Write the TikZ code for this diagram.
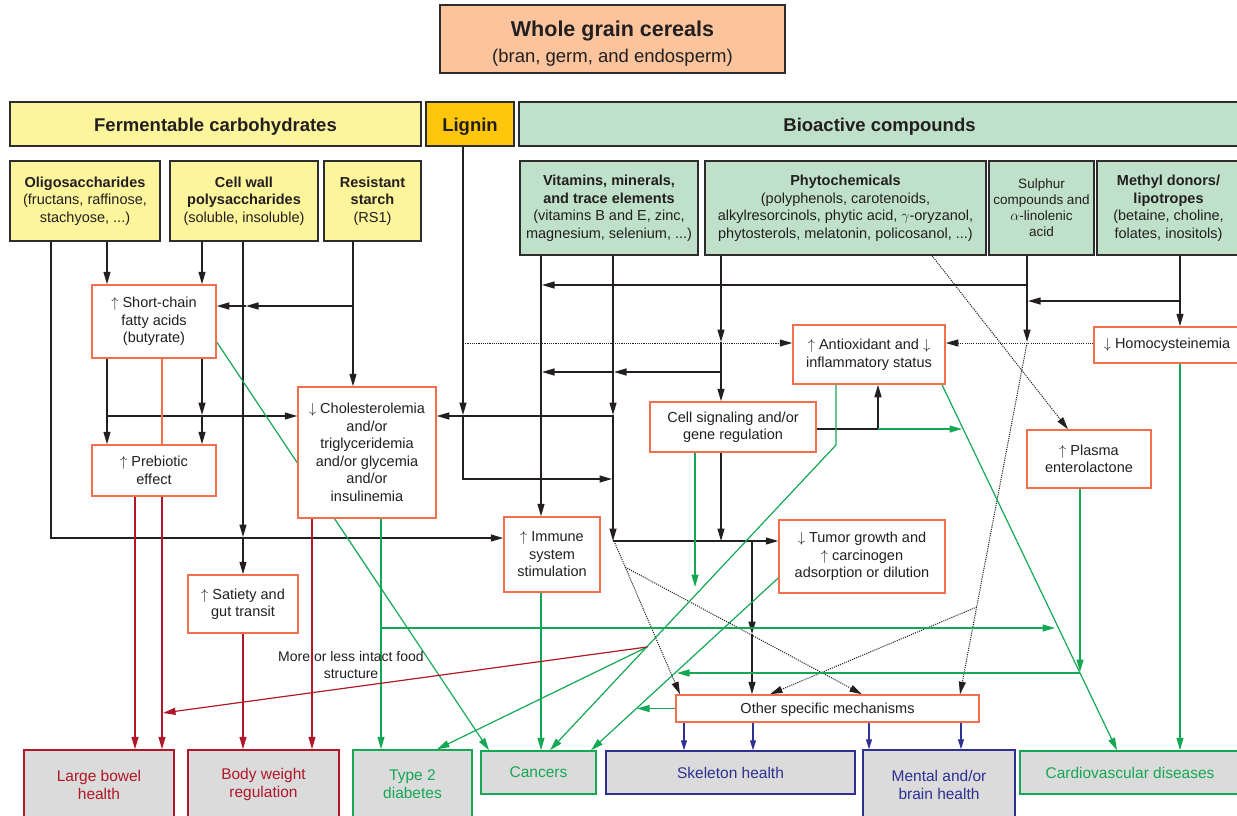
\documentclass[tikz,border=0pt]{standalone}
\usepackage{fontspec}
\setmainfont{Liberation Sans}
\usetikzlibrary{arrows.meta,calc,backgrounds}
\definecolor{ored}{RGB}{243,111,78}
\definecolor{dred}{RGB}{176,24,42}
\definecolor{grn}{RGB}{20,168,85}
\definecolor{blu}{RGB}{46,49,146}
\definecolor{peach}{RGB}{251,196,156}
\definecolor{ylw}{RGB}{253,245,155}
\definecolor{gold}{RGB}{255,198,11}
\definecolor{lgrn}{RGB}{192,225,201}
\definecolor{lgray}{RGB}{218,219,218}
\definecolor{ink}{RGB}{35,31,32}
\definecolor{frame}{RGB}{45,45,45}
\begin{document}
\begin{tikzpicture}[x=1pt,y=-1pt,
  >={Triangle[length=12.5pt,width=7pt]},
  base/.style={inner sep=0pt, align=center, text=ink, font=\fontsize{14.5}{17.5}\selectfont},
  hbox/.style={base, draw=frame, line width=1.5pt},
  head/.style={hbox, minimum height=44, text height=17pt, text depth=1.5pt, font=\fontsize{18.5}{22}\selectfont\bfseries},
  obox/.style={base, draw=ored, line width=1.5pt, fill=white},
  endbox/.style={base, line width=1.5pt, fill=lgray, font=\fontsize{15.5}{18}\selectfont},
  rbox/.style={endbox, draw=dred, text=dred},
  gbox/.style={endbox, draw=grn, text=grn},
  bbox/.style={endbox, draw=blu, text=blu},
  ln/.style={line width=1.3pt, draw=ink},
  ar/.style={ln, ->},
  gar/.style={line width=1.2pt, draw=grn, ->},
  rar/.style={line width=1.2pt, draw=dred, ->},
  bar/.style={line width=1.2pt, draw=blu, -{Triangle[length=10pt,width=6pt]}},
  dar/.style={line width=1pt, draw=ink, dash pattern=on 1.1pt off 1.1pt, ->},
  lbl/.style={base, font=\fontsize{14}{17}\selectfont}
]
\useasboundingbox (0,0) rectangle (1237,816);

% title and headers
\node[hbox, fill=peach, minimum width=345, minimum height=68, font=\fontsize{18.5}{26}\selectfont] (title) at (612.5,39)
  {\rule{0pt}{25.5pt}{\fontsize{21.5}{26}\selectfont\bfseries Whole grain cereals}\\(bran, germ, and endosperm)};
\node[head, fill=ylw, minimum width=411] (fc) at (215.5,124) {Fermentable carbohydrates};
\node[head, fill=gold, minimum width=88] (lig) at (470,124) {Lignin};
\node[head, fill=lgrn, minimum width=721] (bio) at (879.5,124) {Bioactive compounds};

% sources
\node[hbox, fill=ylw, minimum width=150, minimum height=80] (oligo) at (85,201)
  {\textbf{Oligosaccharides}\\(fructans, raffinose,\\stachyose, ...)};
\node[hbox, fill=ylw, minimum width=148, minimum height=80] (cw) at (244,201)
  {\textbf{Cell wall}\\\textbf{polysaccharides}\\(soluble, insoluble)};
\node[hbox, fill=ylw, minimum width=97, minimum height=80] (rs) at (372.5,201)
  {\textbf{Resistant}\\\textbf{starch}\\(RS1)};
\node[hbox, fill=lgrn, minimum width=178, minimum height=94] (vit) at (609,208)
  {\textbf{Vitamins, minerals,}\\\textbf{and trace elements}\\(vitamins B and E, zinc,\\magnesium, selenium, ...)};
\node[hbox, fill=lgrn, minimum width=281, minimum height=94] (phy) at (845.5,208)
  {\textbf{Phytochemicals}\\(polyphenols, carotenoids,\\alkylresorcinols, phytic acid, $\gamma$-oryzanol,\\phytosterols, melatonin, policosanol, ...)};
\node[hbox, fill=lgrn, minimum width=105, minimum height=94, font=\fontsize{13.5}{16}\selectfont] (sul) at (1041.5,208)
  {Sulphur\\compounds and\\$\alpha$-linolenic\\acid};
\node[hbox, fill=lgrn, minimum width=143, minimum height=94] (met) at (1168.5,208)
  {\textbf{Methyl donors/}\\\textbf{lipotropes}\\(betaine, choline,\\folates, inositols)};

% mechanisms
\node[obox, minimum width=124, minimum height=73] (scfa) at (154,321.5) {$\uparrow$ Short-chain\\fatty acids\\(butyrate)};
\node[obox, minimum width=124, minimum height=51] (preb) at (154,470.5) {$\uparrow$ Prebiotic\\effect};
\node[obox, minimum width=138, minimum height=131] (chol) at (367,452.5) {$\downarrow$ Cholesterolemia\\and/or\\triglyceridemia\\and/or glycemia\\and/or\\insulinemia};
\node[obox, minimum width=110, minimum height=58] (sat) at (243,604) {$\uparrow$ Satiety and\\gut transit};
\node[obox, minimum width=96, minimum height=75] (imm) at (552,554.5) {$\uparrow$ Immune\\system\\stimulation};
\node[obox, minimum width=166, minimum height=50] (cs) at (733,427) {Cell signaling and/or\\gene regulation};
\node[obox, minimum width=166, minimum height=73] (tum) at (862,556.5) {$\downarrow$ Tumor growth and\\$\uparrow$ carcinogen\\adsorption or dilution};
\node[obox, minimum width=152, minimum height=59] (ao) at (869,354.5) {$\uparrow$ Antioxidant and $\downarrow$\\inflammatory status};
\node[obox, minimum width=146, minimum height=36] (homo) at (1167,345) {$\downarrow$ Homocysteinemia};
\node[obox, minimum width=124, minimum height=58] (pl) at (1089,459) {$\uparrow$ Plasma\\enterolactone};
\node[obox, minimum width=303, minimum height=27, text height=11pt, text depth=1pt] (oth) at (827.5,708.5) {Other specific mechanisms};

% outcomes
\node[rbox, minimum width=150, minimum height=69] (lbh) at (99,784.5) {Large bowel\\health};
\node[rbox, minimum width=151, minimum height=69] (bwr) at (263.5,784.5) {Body weight\\regulation};
\node[gbox, minimum width=119, minimum height=69] (t2d) at (412.5,784.5) {Type 2\\diabetes};
\node[gbox, minimum width=115, minimum height=43] (can) at (538.5,772.5) {Cancers};
\node[bbox, minimum width=249, minimum height=43] (skel) at (730.5,772.5) {Skeleton health};
\node[bbox, minimum width=152, minimum height=69] (ment) at (939,784.5) {Mental and/or\\brain health};
\node[gbox, minimum width=220, minimum height=43] (cvd) at (1130,772.5) {Cardiovascular diseases};

\node[lbl] (fsl) at (351,665) {More or less intact food\\structure};

\coordinate (fsend) at (163,713);

\begin{scope}[on background layer]
% black connectors
\draw[ar] (oligo.south -| 51,0) -- (51,538) -- (imm.west |- 0,538);
\draw[ar] (oligo.south -| 107,0) -- (scfa.north -| 107,0);
\draw[ar] (cw.south -| 202,0) -- (scfa.north -| 202,0);
\draw[ar] (cw.south -| 243,0) -- (243,537);
\draw[ar] (243,537) -- (sat.north -| 243,0);
\draw[ar] (rs.south -| 353,0) -- (chol.north -| 353,0);
\draw[ar] (353,306) -- (246,306);
\draw[ar] (246,306) -- (scfa.east |- 0,306);
\draw[ar] (scfa.south -| 107,0) -- (preb.north -| 107,0);
\draw[ar] (scfa.south -| 202,0) -- (202,415);
\draw[ar] (202,415) -- (preb.north -| 202,0);
\draw[ar] (107,416) -- (chol.west |- 0,416);
\draw[ar] (lig.south -| 463,0) -- (463,415);
\draw[ar] (463,415) -- (463,479) -- (612,479);
\draw[ar] (vit.south -| 541,0) -- (imm.north -| 541,0);
\draw[ar] (vit.south -| 613,0) -- (613,415);
\draw[ar] (613,415) -- (613,541);
\draw[ar] (613,416) -- (chol.east |- 0,416);
\draw[ar] (613,541) -- (tum.west |- 0,541);
\draw[ar] (sul.south -| 1027,0) -- (1027,342);
\draw[ar] (1027,285) -- (542,285);
\draw[ar] (met.south -| 1180,0) -- (homo.north -| 1180,0);
\draw[ar] (1180,301) -- (1028,301);
\draw[ar] (phy.south -| 721,0) -- (721,342);
\draw[ar] (721,342) -- (cs.north -| 721,0);
\draw[ar] (721,372) -- (614,372);
\draw[ar] (614,372) -- (542,372);
\draw[ar] (cs.east |- 0,429) -- (878,429) -- (ao.south -| 878,0);
\draw[ar] (cs.south -| 721,0) -- (721,541);
\draw[ar] (752,541) -- (752,634);
\draw[ar] (752,634) -- (oth.north -| 752,0);

% dotted connectors
\draw[dar] (homo.west |- 0,343) -- (ao.east |- 0,343);
\draw[dar] (463,343) -- (ao.west |- 0,343);
\coordinate (dj) at ($(1027,343)!0.75!(960,695)$);
\draw[dar] (1027,343) -- (oth.north -| 960,0);
\draw[dar] (dj) -- (oth.north -| 770,0);
\draw[dar] (phy.south -| 932,0) -- (pl.north -| 1068,0);
\coordinate (dk) at ($(614,541)!0.17!(680,695)$);
\draw[dar] (614,541) -- (oth.north -| 680,0);
\draw[dar] (dk) -- (oth.north -| 862,0);

% green connectors
\draw[gar] (scfa.east |- 0,342) -- (can.north -| 489,0);
\draw[gar] (chol.south -| 381,0) -- (t2d.north -| 381,0);
\draw[gar] (381,628) -- (1055,628);
\draw[gar] (ao.south -| 836,0) -- (836,445) -- (can.north -| 550,0);
\coordinate (ja) at ($(836,445)!0.66!(550,751)$);
\draw[gar] (ja) -- (t2d.north -| 437,0);
\draw[gar] (tum.west |- 0,578) -- (can.north -| 591,0);
\draw[gar] (oth.west) -- (637,708.5);
\draw[gar] (imm.south -| 541,0) -- (can.north -| 541,0);
\draw[gar] (ao.south -| 942,0) -- (cvd.north -| 1117,0);
\draw[gar] (878,429) -- (962,429);
\draw[gar] (cs.south -| 695,0) -- (695,587);
\draw[gar] (pl.south -| 1080,0) -- (1080,672);
\draw[gar] (1080,673) -- (677,673);
\draw[gar] (homo.south -| 1180,0) -- (cvd.north -| 1180,0);

% red connectors
\draw[rar] (preb.south -| 135,0) -- (lbh.north -| 135,0);
\draw[rar] (preb.south -| 162,0) -- (lbh.north -| 162,0);
\draw[rar] (sat.south -| 243,0) -- (bwr.north -| 243,0);
\draw[rar] (chol.south -| 312,0) -- (bwr.north -| 312,0);
\draw[rar] (ja) -- (fsend);
\draw[line width=1.3pt, draw=ored] (scfa.south -| 162,0) -- (preb.north -| 162,0);

% blue connectors
\draw[bar] (oth.south -| 684,0) -- (skel.north -| 684,0);
\draw[bar] (oth.south -| 753,0) -- (skel.north -| 753,0);
\draw[bar] (oth.south -| 869,0) -- (ment.north -| 869,0);
\draw[bar] (oth.south -| 961,0) -- (ment.north -| 961,0);
\end{scope}
\end{tikzpicture}
\end{document}
